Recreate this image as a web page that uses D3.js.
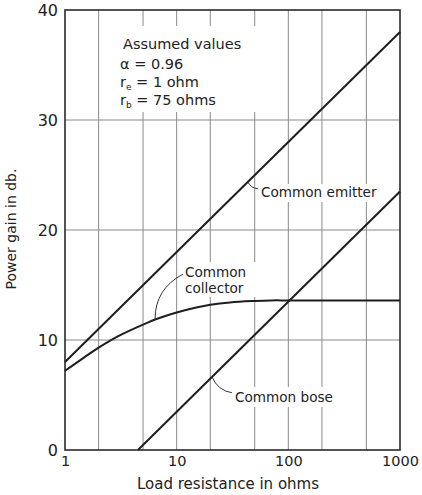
<!DOCTYPE html>
<html>
<head>
<meta charset="utf-8">
<script src="https://cdn.jsdelivr.net/npm/d3@7"></script>
<style>
  html, body { margin: 0; padding: 0; background: #fff; }
  svg { display: block; }
  text { font-family: "DejaVu Sans", sans-serif; fill: #222; }
</style>
</head>
<body>
<svg id="chart" width="422" height="495"></svg>
<script>
// ---- data ----
const emitterR = [1, 1000];
const emitterGain = [8.0, 38.0];
const baseR = [4.5, 1000];
const baseGain = [0, 23.5];
const collectorR = [1, 1.5, 2, 3, 5, 7, 10, 15, 20, 30, 50, 70, 100, 200, 500, 1000];
const collectorGain = [7.2, 8.45, 9.3, 10.35, 11.4, 12.0, 12.5, 12.95, 13.2, 13.42, 13.55, 13.6, 13.6, 13.6, 13.6, 13.6];
const yTicks = [0, 10, 20, 30, 40];
const xTickLabels = [1, 10, 100, 1000];
const xGrid = [2, 5, 10, 20, 50, 100, 200, 500];
const assumed = ["Assumed values", "α = 0.96", "r|e| = 1 ohm", "r|b| = 75 ohms"];

// ---- layout ----
const svg = d3.select("#chart");
const margin = { left: 65, top: 10, right: 22, bottom: 45 };
const W = 422, H = 495;
const x = d3.scaleLog().domain([1, 1000]).range([margin.left, W - margin.right]);
const y = d3.scaleLinear().domain([0, 40]).range([H - margin.bottom, margin.top]);

const gridColor = "#8a8a8a";
// grid
svg.append("g").selectAll("line").data(xGrid).join("line")
  .attr("x1", d => x(d)).attr("x2", d => x(d))
  .attr("y1", y(0)).attr("y2", y(40))
  .attr("stroke", gridColor).attr("stroke-width", 1);
svg.append("g").selectAll("line").data(yTicks.slice(1, -1)).join("line")
  .attr("x1", x(1)).attr("x2", x(1000))
  .attr("y1", d => y(d)).attr("y2", d => y(d))
  .attr("stroke", gridColor).attr("stroke-width", 1);

// white boxes behind labels (mask gridlines)
const masks = svg.append("g");
function mask(x0, y0, w, h) {
  masks.append("rect").attr("x", x0).attr("y", y0).attr("width", w).attr("height", h).attr("fill", "#fff");
}
mask(116, 26, 142, 86);

// frame
svg.append("rect")
  .attr("x", x(1)).attr("y", y(40))
  .attr("width", x(1000) - x(1)).attr("height", y(0) - y(40))
  .attr("fill", "none").attr("stroke", "#2a2a2a").attr("stroke-width", 1.6);

// axes (labels only)
const yAxis = d3.axisLeft(y).tickValues(yTicks).tickSize(0).tickPadding(7).tickFormat(d3.format("d"));
const yg = svg.append("g").attr("transform", `translate(${x(1)},0)`).call(yAxis);
yg.select(".domain").remove();
yg.selectAll("text").attr("font-size", 16).attr("fill", "#222").style("font-family", "DejaVu Sans");

const xAxis = d3.axisBottom(x).tickValues(xTickLabels).tickSize(0).tickPadding(6).tickFormat(d3.format("d"));
const xg = svg.append("g").attr("transform", `translate(0,${y(0)})`).call(xAxis);
xg.select(".domain").remove();
xg.selectAll("text").attr("font-size", 14.5).attr("fill", "#222").style("font-family", "DejaVu Sans");

// axis titles
svg.append("text").attr("x", 228).attr("y", 489)
  .attr("text-anchor", "middle").attr("font-size", 15).text("Load resistance in ohms");
svg.append("text").attr("transform", `translate(16,${229}) rotate(-90)`)
  .attr("text-anchor", "middle").attr("font-size", 14).text("Power gain in db.");

// curves
const line = d3.line().x(d => x(d[0])).y(d => y(d[1])).curve(d3.curveCatmullRom.alpha(0.5));
const curveStyle = s => s.attr("fill", "none").attr("stroke", "#1e1e1e").attr("stroke-width", 2);
svg.append("path").datum(d3.zip(emitterR, emitterGain)).attr("d", line).call(curveStyle);
svg.append("path").datum(d3.zip(baseR, baseGain)).attr("d", line).call(curveStyle);
svg.append("path").datum(d3.zip(collectorR, collectorGain)).attr("d", line).call(curveStyle);

// assumed values text
const ag = svg.append("g").attr("font-size", 14.5);
const baselines = [49, 69, 87, 105];
assumed.forEach((s, i) => {
  const t = ag.append("text").attr("x", i === 0 ? 123 : 120).attr("y", baselines[i]);
  const parts = s.split("|");
  if (parts.length === 1) t.text(s);
  else {
    t.append("tspan").text(parts[0]);
    t.append("tspan").attr("font-size", 9).attr("dy", 3).text(parts[1]);
    t.append("tspan").attr("dy", -3).text(parts[2]);
  }
});

// annotations with leaders
function annotate(r, g, pts, lines, tx, ty, maskBox) {
  if (maskBox) mask(...maskBox);
  const p0 = [x(r), y(g)];
  const path = d3.path();
  path.moveTo(p0[0], p0[1]);
  path.quadraticCurveTo(p0[0] + pts[0], p0[1] + pts[1], p0[0] + pts[2], p0[1] + pts[3]);
  svg.append("path").attr("d", path.toString()).attr("fill", "none").attr("stroke", "#333").attr("stroke-width", 1);
  lines.forEach((s, i) => svg.append("text").attr("x", tx).attr("y", ty + i * 16).attr("font-size", 13.6).text(s));
}
annotate(43.5, 8 + 10 * Math.log10(43.5), [2, 6, 10, 7], ["Common emitter"], 261, 197, [258, 184, 122, 18]);
annotate(6.4, 11.9, [0, -30, 28, -45], ["Common", "collector"], 185, 277, [182, 262, 74, 35]);
annotate(20.7, 6.66, [6, 14, 20, 16], ["Common bose"], 235, 402, [232, 387, 110, 20]);
</script>
</body>
</html>
